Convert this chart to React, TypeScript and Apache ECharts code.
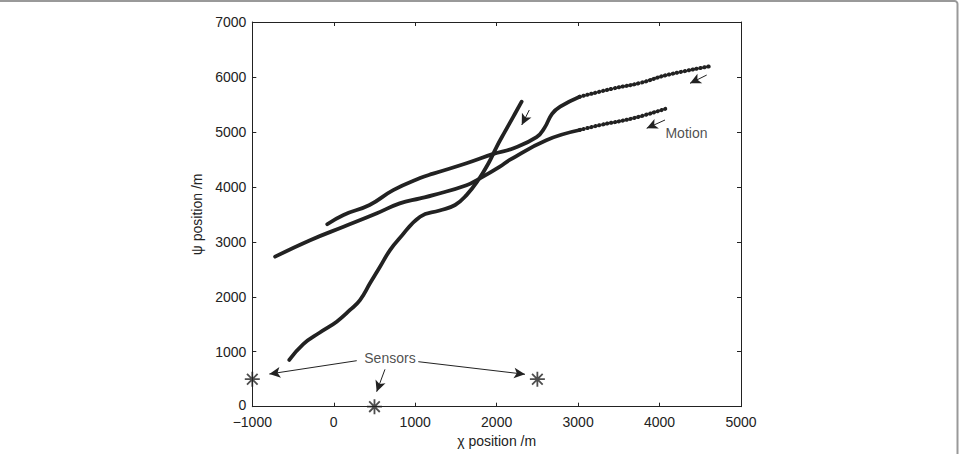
import React, { useEffect, useRef } from "react";
import * as echarts from "echarts";

// Estimated trajectories (x, y in metres), ordered by increasing x.
const trackA: [number, number][] = [
  [-80, 3320], [120, 3490], [440, 3670], [730, 3940], [1060, 4160], [1220, 4240],
  [1630, 4430], [1960, 4600], [2200, 4700], [2490, 4905], [2590, 5080], [2680, 5330],
  [2780, 5460], [3020, 5640], [3430, 5790], [3760, 5890], [4090, 6035], [4640, 6200],
];
const trackB: [number, number][] = [
  [-720, 2730], [-290, 3030], [120, 3275], [530, 3520], [810, 3700], [1060, 3790],
  [1220, 3850], [1630, 4030], [1800, 4160], [2040, 4370], [2160, 4490], [2610, 4850],
  [3020, 5035], [3270, 5125], [3680, 5250], [4070, 5420],
];
const trackC: [number, number][] = [
  [-546, 850], [-374, 1140], [-170, 1350], [36, 1547], [200, 1760], [322, 1940],
  [445, 2245], [568, 2547], [691, 2850], [800, 3050], [1060, 3457], [1300, 3570],
  [1490, 3670], [1630, 3850], [1775, 4125], [1900, 4430], [2000, 4730], [2100, 5000],
  [2200, 5265], [2307, 5550],
];
// Beyond this x the sparser samples show up as a beaded trace.
const beadStartX = 3020;

const sensors: [number, number][] = [[-1000, 500], [500, 0], [2500, 500]];

// Annotation arrows: [from, to] in data coordinates.
const sensorArrows: [number, number][][] = [
  [[282, 837], [-791, 595]],
  [[629, 680], [527, 273]],
  [[1038, 819], [2348, 590]],
];
const motionArrows: [number, number][][] = [
  [[4579, 6035], [4374, 5884]],
  [[4067, 5217], [3842, 5066]],
  [[2401, 5399], [2308, 5126]],
];
const sensorsLabel = { text: "Sensors", at: [690, 880] as [number, number] };
const motionLabel = { text: "Motion", at: [4060, 4980] as [number, number] };

const xTicks = { min: -1000, max: 5000, interval: 1000 };
const yTicks = { min: 0, max: 7000, interval: 1000 };

const INK = "#222";
const FONT = '"Liberation Sans", Arial, Helvetica, sans-serif';

// Eight-spoke asterisk built from four thin bars.
const ASTERISK =
  "path://M0,44L100,44L100,56L0,56Z" +
  "M44,0L56,0L56,100L44,100Z" +
  "M18.88,10.4L89.6,81.12L81.12,89.6L10.4,18.88Z" +
  "M81.12,10.4L89.6,18.88L18.88,89.6L10.4,81.12Z";

const minus = (v: number) => String(v).replace("-", "\u2212");
// The y-axis "0" sits right above the x-axis "−1000"; lift it a little.
const yLabel = (v: number) => (v === 0 ? "{lift|0}" : minus(v));

export default function App() {
  const ref = useRef<HTMLDivElement>(null);

  useEffect(() => {
    if (!ref.current) return;
    const chart = echarts.init(ref.current, undefined, { renderer: "svg" });

    const solid = (t: [number, number][]) => t.filter((p) => p[0] <= beadStartX);
    const beaded = (t: [number, number][]) => t.filter((p) => p[0] >= beadStartX);

    const trackLine = (data: [number, number][], beads: boolean) => ({
      type: "line",
      data,
      showSymbol: false,
      smooth: 0.45,
      lineStyle: beads
        ? { color: INK, width: 4, type: [0.4, 3.6], cap: "round" }
        : { color: INK, width: 3.8, cap: "round", join: "round" },
      silent: true,
      z: 3,
    });

    const arrowSeries = (arrows: [number, number][][]) => ({
      type: "line",
      data: [],
      silent: true,
      markLine: {
        silent: true,
        symbol: ["none", "arrow"],
        symbolSize: [8, 11],
        label: { show: false },
        lineStyle: { color: INK, width: 1, type: "solid" },
        emphasis: { disabled: true },
        data: arrows.map(([a, b]) => [{ coord: a }, { coord: b }]),
      },
      z: 4,
    });

    const textSeries = (item: { text: string; at: [number, number] }, pos: string) => ({
      type: "scatter",
      data: [item.at],
      symbolSize: 0,
      silent: true,
      clip: false,
      label: {
        show: true,
        position: pos,
        distance: 0,
        formatter: item.text,
        color: INK,
        fontSize: 14,
        fontFamily: FONT,
        backgroundColor: "#fff",
        padding: [0, 1],
      },
      z: 5,
    });

    const axisCommon = {
      axisLine: { show: true, onZero: false, lineStyle: { color: INK, width: 1 } },
      axisTick: { show: true, inside: true, length: 4, lineStyle: { color: INK } },
      splitLine: { show: false },
    };

    chart.setOption({
      animation: false,
      backgroundColor: "#fff",
      grid: { left: 252.3, right: 219, top: 22, bottom: 47.3, containLabel: false },
      graphic: [
        {
          type: "rect",
          shape: { x: -10, y: 1, width: 967.5, height: 480, r: 3 },
          style: { fill: "none", stroke: "#999", lineWidth: 2 },
          silent: true,
        },
      ],
      xAxis: [
        {
          type: "value",
          ...xTicks,
          position: "bottom",
          ...axisCommon,
          axisLabel: {
            color: INK, fontSize: 14, fontFamily: FONT, margin: 10, lineHeight: 10, formatter: minus,
          },
          name: "\u03c7 position /m",
          nameLocation: "middle",
          nameGap: 23,
          nameTextStyle: { color: INK, fontSize: 14, fontFamily: FONT },
        },
        {
          type: "value",
          ...xTicks,
          position: "top",
          ...axisCommon,
          axisLabel: { show: false },
        },
      ],
      yAxis: [
        {
          type: "value",
          ...yTicks,
          position: "left",
          ...axisCommon,
          axisLabel: {
            color: INK, fontSize: 14, fontFamily: FONT, margin: 6, lineHeight: 10, formatter: yLabel,
            rich: {
              lift: { color: INK, fontSize: 14, fontFamily: FONT, lineHeight: 10, padding: [0, 0, 4, 0] },
            },
          },
          name: "\u03c8 position /m",
          nameLocation: "middle",
          nameGap: 41,
          nameTextStyle: { color: INK, fontSize: 14, fontFamily: FONT },
        },
        {
          type: "value",
          ...yTicks,
          position: "right",
          ...axisCommon,
          axisLabel: { show: false },
        },
      ],
      series: [
        trackLine(solid(trackA), false),
        trackLine(beaded(trackA), true),
        trackLine(solid(trackB), false),
        trackLine(beaded(trackB), true),
        trackLine(trackC, false),
        {
          type: "scatter",
          data: sensors,
          symbol: ASTERISK,
          symbolSize: 15,
          clip: false,
          silent: true,
          itemStyle: { color: INK },
          z: 6,
        },
        arrowSeries(sensorArrows),
        arrowSeries(motionArrows),
        textSeries(sensorsLabel, "inside"),
        textSeries(motionLabel, "right"),
      ],
    });

    return () => chart.dispose();
  }, []);

  return (
    <div
      ref={ref}
      style={{ position: "absolute", left: 0, top: 0, width: 960, height: 454, background: "#fff" }}
    />
  );
}
